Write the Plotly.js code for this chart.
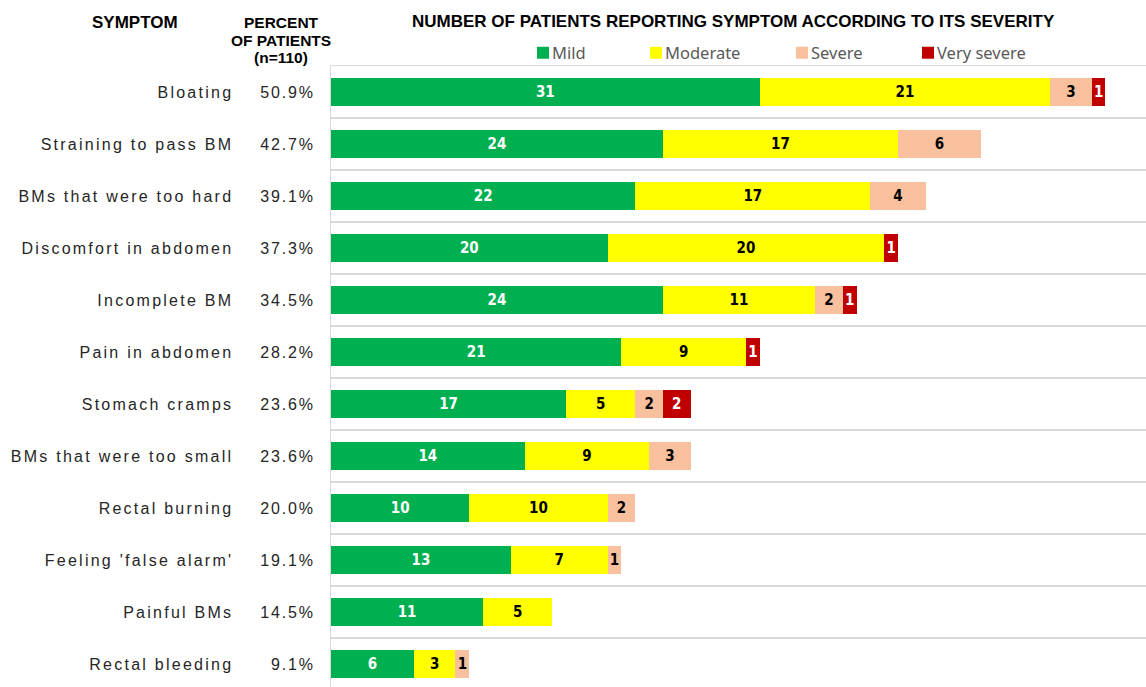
<!DOCTYPE html>
<html>
<head>
<meta charset="utf-8">
<script src="https://cdn.plot.ly/plotly-3.0.1.min.js"></script>
<style>
  html, body { margin: 0; padding: 0; background: #fff; }
  #chart { width: 1146px; height: 687px; }
  .ytick text { letter-spacing: 2.25px; }
  .y2tick text { letter-spacing: 1.9px; }
  /* pull legend labels closer to their colour squares, as in the reference */
  #chart .infolayer g[class^="legend"] text { transform: translateX(-11px); }
</style>
</head>
<body>
<div id="chart"></div>
<script>
const symptoms = ["Bloating", "Straining to pass BM", "BMs that were too hard", "Discomfort in abdomen",
  "Incomplete BM", "Pain in abdomen", "Stomach cramps", "BMs that were too small", "Rectal burning",
  "Feeling 'false alarm'", "Painful BMs", "Rectal bleeding"];
const percents = ["50.9%", "42.7%", "39.1%", "37.3%", "34.5%", "28.2%", "23.6%", "23.6%", "20.0%", "19.1%", "14.5%", "9.1%"];
const mild = [31, 24, 22, 20, 24, 21, 17, 14, 10, 13, 11, 6];
const moderate = [21, 17, 17, 20, 11, 9, 5, 9, 10, 7, 5, 3];
const severe = [3, 6, 4, null, 2, null, 2, 3, 2, 1, null, 1];
const verySevere = [1, null, null, 1, 1, 1, 2, null, null, null, null, null];
const seriesNames = ["Mild", "Moderate", "Severe", "Very severe"];
const seriesColors = ["#00b050", "#ffff00", "#f8c09c", "#c00000"];
const labelColors = ["#ffffff", "#000000", "#000000", "#ffffff"];
const headerSymptom = "SYMPTOM";
const headerPercent = ["PERCENT", "OF PATIENTS", "(n=110)"];
const headerMain = "NUMBER OF PATIENTS REPORTING SYMPTOM ACCORDING TO ITS SEVERITY";

const seriesVals = [mild, moderate, severe, verySevere];
const legendIds = ["legend", "legend2", "legend3", "legend4"];
const barFont = "'Liberation Sans Narrow', 'DejaVu Sans Condensed', 'Liberation Sans', sans-serif";

const traces = seriesVals.map((vals, i) => ({
  type: "bar",
  orientation: "h",
  name: seriesNames[i],
  x: vals,
  y: symptoms,
  marker: { color: seriesColors[i], line: { width: 0 } },
  text: vals.map(v => v == null ? "" : String(v)),
  texttemplate: "%{text}",
  textposition: "inside",
  insidetextanchor: "middle",
  textangle: 0,
  constraintext: "none",
  textfont: { family: barFont, size: 15, color: labelColors[i], weight: "bold" },
  hoverinfo: "skip",
  legend: legendIds[i]
}));

// helper trace for percentage column axis
traces.push({
  type: "scatter", mode: "markers", x: symptoms.map(() => 0), y: symptoms, yaxis: "y2",
  marker: { opacity: 0, size: 1 }, showlegend: false, hoverinfo: "skip"
});

const L = 331, W = 815, H = 621, B = 687;
const px = v => (v - L) / W;
const py = v => (B - v) / H;

const legendXs = [537, 650, 796, 922];
const legends = {};
legendIds.forEach((id, i) => {
  legends[id] = {
    x: px(legendXs[i] - 14), xanchor: "left", y: py(53), yanchor: "middle",
    orientation: "h", bgcolor: "rgba(0,0,0,0)", borderwidth: 0,
    font: { family: "'Noto Sans', 'Liberation Sans', sans-serif", size: 16.5, color: "#595959" },
    itemclick: false, itemdoubleclick: false
  };
});

const headFont = { family: "'Liberation Sans', Arial, sans-serif", size: 17, color: "#000", weight: "bold" };
const subFont = { family: "'Liberation Sans', Arial, sans-serif", size: 15.5, color: "#000", weight: "bold" };
const annotations = [
  { text: headerSymptom, x: px(135), y: py(23) },
  { text: headerPercent[0], x: px(281), y: py(22.5), font: subFont },
  { text: headerPercent[1], x: px(281), y: py(40), font: subFont },
  { text: headerPercent[2], x: px(281), y: py(57.5), font: subFont },
  { text: headerMain, x: px(733), y: py(22) }
].map(a => Object.assign({ xref: "paper", yref: "paper", xanchor: "center", yanchor: "middle",
  showarrow: false, font: headFont }, a));

const layout = Object.assign({
  width: 1146, height: 687,
  margin: { l: L, r: 0, t: 66, b: 0, pad: 0 },
  paper_bgcolor: "#ffffff", plot_bgcolor: "#ffffff",
  barmode: "stack", bargap: 0.46,
  showlegend: true,
  xaxis: { range: [0, W / 13.83], side: "top", showgrid: false, zeroline: false, showticklabels: false, ticks: "",
    showline: true, linecolor: "#d9d9d9", linewidth: 1.5, fixedrange: true },
  yaxis: {
    type: "category", categoryorder: "array", categoryarray: symptoms,
    range: [11.44, -0.5], autorange: false,
    tickson: "boundaries", showgrid: true, gridcolor: "#d9d9d9", gridwidth: 1.5,
    showline: true, linecolor: "#d9d9d9", linewidth: 1.5,
    ticks: "", ticklabelstandoff: 93,
    tickfont: { family: "'Liberation Sans', Arial, sans-serif", size: 16, color: "#262626" }
  },
  yaxis2: {
    type: "category", categoryorder: "array", categoryarray: symptoms, overlaying: "y", side: "left",
    range: [11.44, -0.5], autorange: false,
    tickmode: "array", tickvals: symptoms, ticktext: percents,
    showgrid: false, showline: false, zeroline: false, ticks: "", ticklabelstandoff: 15,
    tickfont: { family: "'Liberation Sans', Arial, sans-serif", size: 16, color: "#262626" }
  },
  annotations: annotations
}, legends);

Plotly.newPlot("chart", traces, layout, { displayModeBar: false, staticPlot: true });
</script>
</body>
</html>
